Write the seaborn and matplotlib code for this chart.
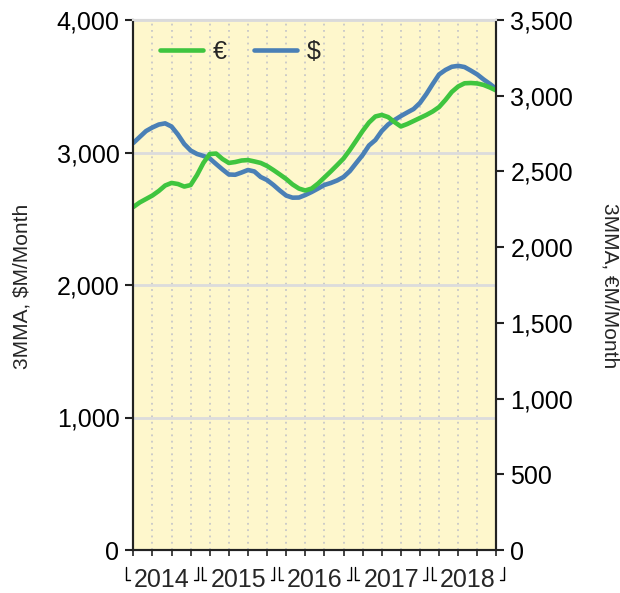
import matplotlib
matplotlib.use('Agg')
import matplotlib.pyplot as plt
import matplotlib.transforms as mtransforms
import seaborn as sns
import numpy as np

# monthly 3-month moving averages, Feb 2014 .. Dec 2018 (58 months)
months = np.arange(58)
usd = [3072, 3117, 3162, 3189, 3211, 3220, 3196, 3136, 3064, 3015,
       2989, 2974, 2955, 2913, 2872, 2834, 2832, 2849, 2868, 2857,
       2815, 2792, 2755, 2713, 2675, 2659, 2660, 2679, 2702, 2728,
       2755, 2770, 2789, 2815, 2860, 2921, 2981, 3053, 3094, 3162,
       3211, 3245, 3275, 3302, 3328, 3374, 3441, 3517, 3589, 3623,
       3647, 3654, 3645, 3618, 3589, 3551, 3517, 3479]
eur = [2265, 2295, 2318, 2341, 2371, 2407, 2424, 2417, 2400, 2410,
       2476, 2556, 2615, 2618, 2582, 2556, 2562, 2572, 2575, 2566,
       2556, 2536, 2509, 2480, 2450, 2414, 2387, 2374, 2387, 2420,
       2460, 2500, 2542, 2585, 2642, 2704, 2767, 2823, 2863, 2873,
       2859, 2826, 2797, 2813, 2833, 2853, 2873, 2896, 2925, 2972,
       3025, 3061, 3082, 3084, 3081, 3071, 3054, 3034]
years = ['2014', '2015', '2016', '2017', '2018']
left_ticks = [0, 1000, 2000, 3000, 4000]
right_ticks = [0, 500, 1000, 1500, 2000, 2500, 3000, 3500]

GREEN = '#3FC53F'
BLUE = '#4A80B6'
BG = '#FEF7CC'

sns.set_theme(style='white')
plt.rcParams['font.family'] = ['Liberation Sans', 'DejaVu Sans']

fig, ax = plt.subplots(figsize=(6.2, 5.93), dpi=100)
fig.subplots_adjust(left=133.3 / 620, right=496.4 / 620,
                    bottom=1 - 550 / 593, top=1 - 20 / 593)
ax.set_facecolor(BG)

sns.lineplot(x=months, y=usd, ax=ax, color=BLUE, lw=3.3, label='$')
ax2 = ax.twinx()
sns.lineplot(x=months, y=eur, ax=ax2, color=GREEN, lw=3.3, label='€')

ax.set_xlim(0, 57)
ax.set_ylim(0, 4000)
ax2.set_ylim(0, 3500)
ax.set_xticks(range(0, 58, 3))
ax.set_yticks(left_ticks)
ax2.set_yticks(right_ticks)
ax.set_yticklabels([f'{v:,}' for v in left_ticks])
ax2.set_yticklabels([f'{v:,}' for v in right_ticks])
ax.set_xticklabels([])

# grid
ax.set_axisbelow(True)
ax.yaxis.grid(True, color='#DCDCDC', lw=2)
ax.xaxis.grid(True, color='#C8C8C8', lw=1.3, linestyle=(0, (1, 2.5)))

# spines and ticks
for a in (ax, ax2):
    for s in a.spines.values():
        s.set_color('#222222')
        s.set_linewidth(1.5)
    a.spines['top'].set_color('#DADADA')
ax.tick_params(axis='y', which='both', left=True, direction='out',
               length=6, width=1.5, labelsize=18, pad=4, colors='#222222',
               labelcolor='black')
ax2.tick_params(axis='y', which='both', right=True, direction='out',
                length=6, width=1.5, labelsize=18, pad=4, colors='#222222',
                labelcolor='black')
ax.tick_params(axis='x', bottom=True, direction='out', length=4, width=1.2,
               colors='#222222')
ax.set_xlabel('')
ax.set_ylabel('')
ax2.set_ylabel('')

# year labels with floor brackets
trans = mtransforms.blended_transform_factory(ax.transData, ax.transAxes)
for k, yr in enumerate(years):
    start = 12 * k - 1.5
    end = start + 12
    ax.text(start + 6, -0.0695, yr, transform=trans, ha='center',
            va='baseline', fontsize=18)
    ax.plot([start + 0.35, start + 0.35, start + 0.95], [-0.032, -0.057, -0.057],
            transform=trans, color='black', lw=1, clip_on=False)
    ax.plot([end - 0.95, end - 0.35, end - 0.35], [-0.057, -0.057, -0.032],
            transform=trans, color='black', lw=1, clip_on=False)

# axis titles
fig.text(22 / 620, 1 - 286 / 593, '3MMA, $M/Month', rotation=90,
         ha='center', va='center', fontsize=15)
fig.text(610 / 620, 1 - 286 / 593, '3MMA, €M/Month', rotation=270,
         ha='center', va='center', fontsize=15)

# legend
ax.get_legend().remove()
h1, l1 = ax.get_legend_handles_labels()
h2, l2 = ax2.get_legend_handles_labels()
ax2.legend(h2 + h1, l2 + l1, loc='center left', bbox_to_anchor=(0.074, 0.94),
           ncol=2, frameon=False, fontsize=18, handlelength=1.7,
           handletextpad=0.4, columnspacing=1.1, borderpad=0, borderaxespad=0)

fig.savefig('out.png', dpi=100)
